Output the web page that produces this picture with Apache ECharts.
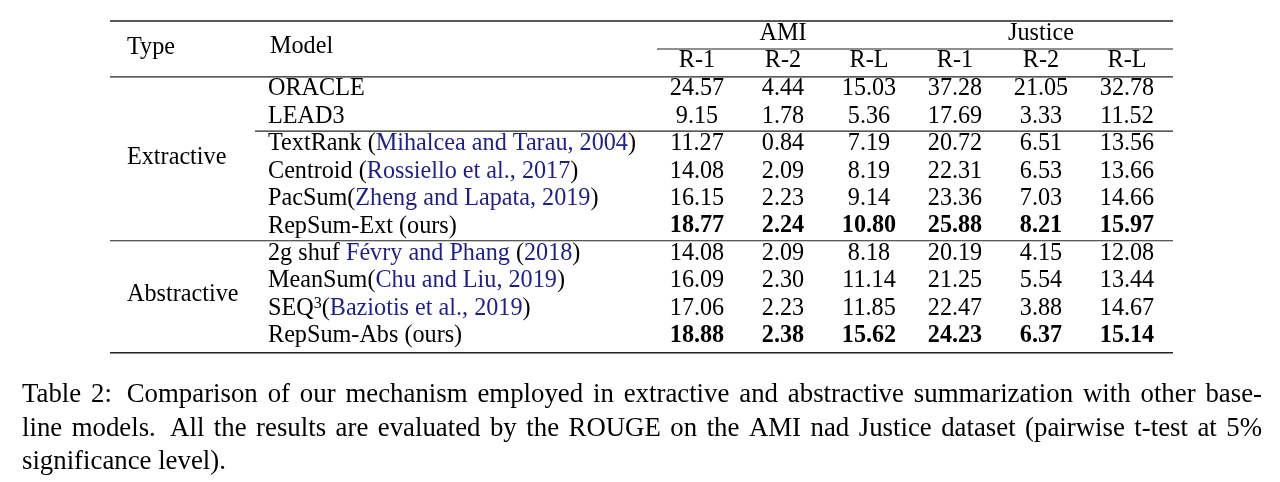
<!DOCTYPE html>
<html>
<head>
<meta charset="utf-8">
<script src="https://cdn.jsdelivr.net/npm/echarts@6/dist/echarts.min.js"></script>
<style>
html, body { margin: 0; background: #fff; }
#main { width: 1280px; height: 482px; }
</style>
</head>
<body>
<div id="main"></div>
<script>
// Tabellendaten
var groups = ['AMI', 'Justice'];
var metrics = ['R-1', 'R-2', 'R-L'];
var models = ['ORACLE', 'LEAD3', 'TextRank', 'Centroid', 'PacSum', 'RepSum-Ext', '2g shuf', 'MeanSum', 'SEQ', 'RepSum-Abs'];
var modelSup = ['', '', '', '', '', '', '', '', '3', ''];
var modelSuffix = ['', '', '', '', '', ' (ours)', '', '', '', ' (ours)'];
var citeAuthors = ['', '', 'Mihalcea and Tarau', 'Rossiello et al.', 'Zheng and Lapata', '', 'Févry and Phang', 'Chu and Liu', 'Baziotis et al.', ''];
var citeYears = ['', '', '2004', '2017', '2019', '', '2018', '2019', '2019', ''];
var citeStyle = ['', '', 'p ', 'p ', 'p', '', 't ', 'p', 'p', ''];
var amiR1 = [24.57, 9.15, 11.27, 14.08, 16.15, 18.77, 14.08, 16.09, 17.06, 18.88];
var amiR2 = [4.44, 1.78, 0.84, 2.09, 2.23, 2.24, 2.09, 2.30, 2.23, 2.38];
var amiRL = [15.03, 5.36, 7.19, 8.19, 9.14, 10.80, 8.18, 11.14, 11.85, 15.62];
var jusR1 = [37.28, 17.69, 20.72, 22.31, 23.36, 25.88, 20.19, 21.25, 22.47, 24.23];
var jusR2 = [21.05, 3.33, 6.51, 6.53, 7.03, 8.21, 4.15, 5.54, 3.88, 6.37];
var jusRL = [32.78, 11.52, 13.56, 13.66, 14.66, 15.97, 12.08, 13.44, 14.67, 15.14];
var oursRows = [5, 9];
var types = ['Extractive', 'Abstractive'];
var typeRows = [[0, 5], [6, 9]];
var captionLines = [
  'Table 2: Comparison of our mechanism employed in extractive and abstractive summarization with other base-',
  'line models. All the results are evaluated by the ROUGE on the AMI nad Justice dataset (pairwise t-test at 5%',
  'significance level).'
];

var FONT = 'Liberation Serif';
var FS = 24.2;
var CAP_FS = 26.8;
var BLUE = '#1f1f8c';
var TABLE_L = 110, TABLE_R = 1173;
var GRID_L = 654, GRID_W = 516, GRID_T = 75.3, GRID_H = 274.4;
var MODEL_X = 268, TYPE_X = 127;

var columns = [amiR1, amiR2, amiRL, jusR1, jusR2, jusRL];
var colNames = [];
groups.forEach(function (g) {
  metrics.forEach(function (m) { colNames.push(g + '|' + m); });
});

var cells = [];
columns.forEach(function (col, c) {
  col.forEach(function (v, r) {
    var item = { value: [c, r, v] };
    if (oursRows.indexOf(r) >= 0) item.label = { fontWeight: 'bold' };
    cells.push(item);
  });
});

function modelLabel(name, i) {
  var s = '{n|' + name + '}';
  if (modelSup[i]) s += '{s|' + modelSup[i] + '}';
  if (modelSuffix[i]) s += '{n|' + modelSuffix[i] + '}';
  var st = citeStyle[i];
  if (st.charAt(0) === 'p') {
    s += '{n|' + (st.length > 1 ? ' ' : '') + '(}{c|' + citeAuthors[i] + ', ' + citeYears[i] + '}{n|)}';
  } else if (st.charAt(0) === 't') {
    s += '{n| }{c|' + citeAuthors[i] + '}{n| (}{c|' + citeYears[i] + '}{n|)}';
  }
  return s;
}

var myChart = echarts.init(document.getElementById('main'));

var option = {
  animation: false,
  backgroundColor: '#fff',
  grid: { left: GRID_L, top: GRID_T, width: GRID_W, height: GRID_H },
  xAxis: {
    type: 'category',
    position: 'top',
    data: colNames,
    axisLine: { show: false },
    axisTick: { show: false },
    splitLine: { show: false },
    axisLabel: {
      interval: 0,
      margin: 14.3,
      verticalAlign: 'middle',
      fontFamily: FONT,
      fontSize: FS,
      color: '#000',
      formatter: function (v) { return v.split('|')[1]; }
    }
  },
  yAxis: {
    type: 'category',
    inverse: true,
    data: models,
    axisLine: { show: false },
    axisTick: { show: false },
    splitLine: { show: false },
    axisLabel: {
      interval: 0,
      align: 'left',
      margin: GRID_L - MODEL_X,
      fontFamily: FONT,
      fontSize: FS,
      color: '#000',
      formatter: modelLabel,
      rich: {
        n: { fontFamily: FONT, fontSize: FS, color: '#000', lineHeight: 26 },
        c: { fontFamily: FONT, fontSize: FS, color: BLUE, lineHeight: 26 },
        s: { fontFamily: FONT, fontSize: 16, color: '#000', lineHeight: 15, verticalAlign: 'top' }
      }
    }
  },
  series: [
    {
      type: 'scatter',
      data: cells,
      symbolSize: 0,
      itemStyle: { color: '#000', opacity: 0 },
      silent: true,
      label: {
        show: true,
        position: 'inside',
        fontFamily: FONT,
        fontSize: FS,
        color: '#000',
        opacity: 1,
        textBorderWidth: 0,
        textBorderColor: 'transparent',
        formatter: function (p) { return p.value[2].toFixed(2); }
      }
    }
  ]
};

myChart.setOption(option);

// Linien, Kopfzeilen und Beschriftung
function pt(c, r) { return myChart.convertToPixel({ gridIndex: 0 }, [c, r]); }
var band = pt(0, 1)[1] - pt(0, 0)[1];
function rowBottom(r) { return pt(0, r)[1] + band / 2; }

function hline(x1, x2, y, w) {
  return { type: 'line', silent: true, shape: { x1: x1, y1: y, x2: x2, y2: y }, style: { stroke: '#222', lineWidth: w || 1.2 } };
}
function txt(s, x, y, opts) {
  opts = opts || {};
  return {
    type: 'text', silent: true, x: x, y: y,
    style: {
      text: s, fill: opts.color || '#000',
      font: (opts.weight || 'normal') + ' ' + (opts.size || FS) + 'px "' + FONT + '"',
      textAlign: opts.align || 'left', align: opts.align || 'left',
      textVerticalAlign: 'middle', verticalAlign: 'middle'
    }
  };
}

var g = [];
g.push(hline(TABLE_L, TABLE_R, 21, 1.4));
g.push(hline(657, TABLE_R, 49, 1.1));
g.push(hline(TABLE_L, TABLE_R, GRID_T + 1.6, 1.2));
g.push(hline(255, TABLE_R, rowBottom(1) + 1, 1.2));
g.push(hline(TABLE_L, TABLE_R, rowBottom(5) + 0.8, 1.2));
g.push(hline(TABLE_L, TABLE_R, rowBottom(9) + 3, 1.4));

g.push(txt('Type', TYPE_X, 48));
g.push(txt('Model', MODEL_X + 2, 47));
groups.forEach(function (name, i) {
  var xa = pt(i * 3, 0)[0], xb = pt(i * 3 + 2, 0)[0];
  g.push(txt(name, (xa + xb) / 2, 34, { align: 'center' }));
});
types.forEach(function (name, i) {
  var ya = pt(0, typeRows[i][0])[1], yb = pt(0, typeRows[i][1])[1];
  g.push(txt(name, TYPE_X, (ya + yb) / 2));
});

// Blocksatz für die Bildunterschrift
var ctx = document.createElement('canvas').getContext('2d');
var capFont = CAP_FS + 'px "' + FONT + '"';
ctx.font = capFont;
var CAP_L = 22, CAP_R = 1262, CAP_Y = [395, 428.5, 462];
captionLines.forEach(function (line, li) {
  if (li === captionLines.length - 1) {
    g.push(txt(line, CAP_L, CAP_Y[li], { size: CAP_FS }));
    return;
  }
  var words = line.split(' ');
  var widths = words.map(function (w) { return ctx.measureText(w).width; });
  var total = widths.reduce(function (a, b) { return a + b; }, 0);
  var weights = [];
  for (var k = 0; k < words.length - 1; k++) {
    weights.push(/[.:]$/.test(words[k]) ? 1.5 : 1);
  }
  var wsum = weights.reduce(function (a, b) { return a + b; }, 0);
  var unit = (CAP_R - CAP_L - total) / wsum;
  var x = CAP_L;
  words.forEach(function (w, k) {
    g.push(txt(w, x, CAP_Y[li], { size: CAP_FS }));
    x += widths[k] + (k < weights.length ? weights[k] * unit : 0);
  });
});

myChart.setOption({ graphic: g });
</script>
</body>
</html>
